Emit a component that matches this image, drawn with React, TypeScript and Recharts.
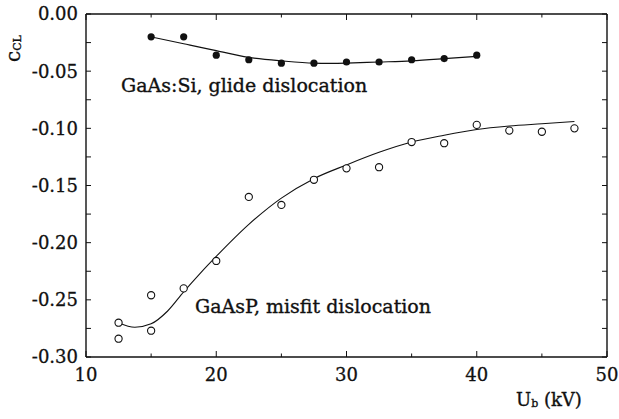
import {
  ComposedChart,
  Line,
  Scatter,
  XAxis,
  YAxis,
  ReferenceLine,
} from "recharts";

// GaAs:Si, glide dislocation (filled dots)
const glideX = [15, 17.5, 20, 22.5, 25, 27.5, 30, 32.5, 35, 37.5, 40];
const glideY = [-0.02, -0.02, -0.036, -0.04, -0.043, -0.043, -0.042, -0.042, -0.04, -0.039, -0.036];
const glideFitY = [-0.02, -0.026, -0.032, -0.038, -0.041, -0.043, -0.043, -0.042, -0.041, -0.039, -0.037];

// GaAsP, misfit dislocation (open circles)
const misfitX = [12.5, 12.5, 15, 15, 17.5, 20, 22.5, 25, 27.5, 30, 32.5, 35, 37.5, 40, 42.5, 45, 47.5];
const misfitY = [-0.27, -0.284, -0.246, -0.277, -0.24, -0.216, -0.16, -0.167, -0.145, -0.135, -0.134, -0.112, -0.113, -0.097, -0.102, -0.103, -0.1];
const misfitFitX = [12.5, 13.75, 15, 16.25, 17.5, 18.75, 20, 22.5, 25, 27.5, 30, 32.5, 35, 37.5, 40, 42.5, 45, 47.5];
const misfitFitY = [-0.27, -0.274, -0.271, -0.26, -0.243, -0.227, -0.212, -0.184, -0.161, -0.144, -0.132, -0.121, -0.112, -0.106, -0.101, -0.098, -0.096, -0.094];

const xTicks = [10, 20, 30, 40, 50];
const xMinorTicks = [15, 25, 35, 45];
const yTicks = [0, -0.05, -0.1, -0.15, -0.2, -0.25, -0.3];
const yMinorTicks = [-0.025, -0.075, -0.125, -0.175, -0.225, -0.275];

const glideData = glideX.map((x, i) => ({ x, y: glideY[i] }));
const glideFit = glideX.map((x, i) => ({ x, y: glideFitY[i] }));
const misfitData = misfitX.map((x, i) => ({ x, y: misfitY[i] }));
const misfitFit = misfitFitX.map((x, i) => ({ x, y: misfitFitY[i] }));

const W = 619;
const H = 419;
const FONT = "'DejaVu Serif', serif";
const INK = "#111";
// data units per pixel, for inward tick marks
const dxPx = 40 / 521;
const dyPx = 0.3 / 343;

export default function App() {
  const tickStyle = { fontFamily: FONT, fontSize: 18, fill: INK, stroke: INK, strokeWidth: 0.3 };
  const textProps = { fontFamily: FONT, fill: INK, stroke: INK, strokeWidth: 0.35 };
  const xTickLines = [
    ...xTicks.map((v) => ({ v, len: 6 })),
    ...xMinorTicks.map((v) => ({ v, len: 3.5 })),
  ];
  const yTickLines = [...yTicks, ...yMinorTicks];
  return (
    <div style={{ position: "absolute", left: 0, top: 0, width: W, height: H, background: "#fff" }}>
      <ComposedChart width={W} height={H} margin={{ top: 14, right: 12, bottom: 0, left: 0 }}>
        <XAxis
          type="number"
          dataKey="x"
          domain={[10, 50]}
          ticks={xTicks}
          height={62}
          tickLine={false}
          tickMargin={5}
          axisLine={{ stroke: INK, strokeWidth: 1.4 }}
          tick={tickStyle}
        />
        <YAxis
          type="number"
          dataKey="y"
          domain={[-0.3, 0]}
          ticks={yTicks}
          width={86}
          tickLine={false}
          axisLine={{ stroke: INK, strokeWidth: 1.4 }}
          tick={tickStyle}
          tickFormatter={(v: number) => v.toFixed(2)}
        />
        <ReferenceLine y={0} stroke={INK} strokeWidth={1.4} ifOverflow="visible" />
        <ReferenceLine x={50} stroke={INK} strokeWidth={1.4} ifOverflow="visible" />
        {xTickLines.map((t) => (
          <ReferenceLine
            key={`xb${t.v}`}
            ifOverflow="visible"
            stroke={INK}
            strokeWidth={1}
            segment={[{ x: t.v, y: -0.3 }, { x: t.v, y: -0.3 + t.len * dyPx }]}
          />
        ))}
        {xTickLines.map((t) => (
          <ReferenceLine
            key={`xt${t.v}`}
            ifOverflow="visible"
            stroke={INK}
            strokeWidth={1}
            segment={[{ x: t.v, y: 0 }, { x: t.v, y: -t.len * dyPx }]}
          />
        ))}
        {yTickLines.map((v) => (
          <ReferenceLine
            key={`yl${v}`}
            ifOverflow="visible"
            stroke={INK}
            strokeWidth={1}
            segment={[{ x: 10, y: v }, { x: 10 + 5 * dxPx, y: v }]}
          />
        ))}
        {yTickLines.map((v) => (
          <ReferenceLine
            key={`yr${v}`}
            ifOverflow="visible"
            stroke={INK}
            strokeWidth={1}
            segment={[{ x: 50, y: v }, { x: 50 - 5 * dxPx, y: v }]}
          />
        ))}
        <Line
          data={glideFit}
          dataKey="y"
          type="natural"
          stroke={INK}
          strokeWidth={1.2}
          dot={false}
          isAnimationActive={false}
        />
        <Line
          data={misfitFit}
          dataKey="y"
          type="monotone"
          stroke={INK}
          strokeWidth={1.1}
          dot={false}
          isAnimationActive={false}
        />
        <Scatter
          data={glideData}
          dataKey="y"
          isAnimationActive={false}
          shape={(p: any) => <circle cx={p.cx} cy={p.cy} r={3.6} fill={INK} />}
        />
        <Scatter
          data={misfitData}
          dataKey="y"
          isAnimationActive={false}
          shape={(p: any) => (
            <circle cx={p.cx} cy={p.cy} r={3.6} fill="#fff" stroke={INK} strokeWidth={1.1} />
          )}
        />
        <text x={121} y={92} fontSize={19} {...textProps}>
          GaAs:Si, glide dislocation
        </text>
        <text x={195} y={313} fontSize={19} {...textProps}>
          GaAsP, misfit dislocation
        </text>
        <text x={516} y={406} fontSize={18} {...textProps}>
          U<tspan fontSize={11} dy={1}>b</tspan>
          <tspan dy={-1}> (kV)</tspan>
        </text>
        <text transform="translate(20,62) rotate(-90)" fontSize={20} {...textProps}>
          c<tspan fontSize={11} dy={1}>CL</tspan>
        </text>
      </ComposedChart>
    </div>
  );
}
